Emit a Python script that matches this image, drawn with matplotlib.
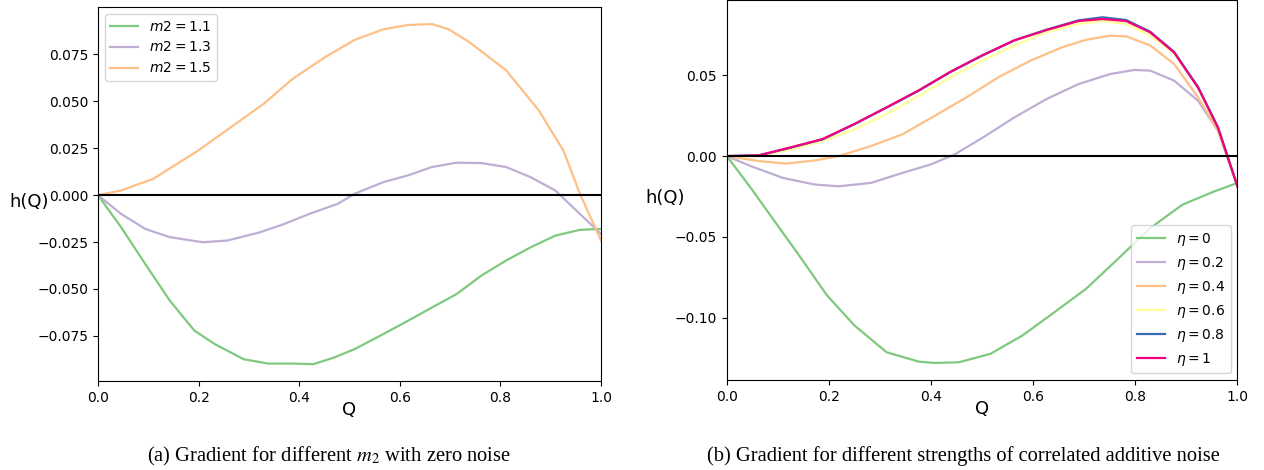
import matplotlib
matplotlib.use("Agg")
import matplotlib.pyplot as plt

# colours of the Accent colormap
colors = ['#7fc97f', '#beaed4', '#fdc086', '#ffff99', '#386cb0', '#f0027f']

# (a) zero noise, different m2
q_a15 = [0.0, 0.046, 0.11, 0.2, 0.274, 0.33, 0.388, 0.453, 0.51, 0.567, 0.616,
         0.664, 0.697, 0.737, 0.811, 0.876, 0.925, 0.958, 1.0]
h_a15 = [0.0, 0.0025, 0.0087, 0.0239, 0.0381, 0.0488, 0.0622, 0.0738, 0.0827,
         0.0884, 0.0907, 0.0912, 0.0884, 0.0818, 0.0666, 0.0453, 0.0239, 0.0007, -0.0242]

q_a13 = [0.0, 0.046, 0.094, 0.143, 0.208, 0.257, 0.322, 0.371, 0.42, 0.477, 0.51,
         0.567, 0.616, 0.664, 0.713, 0.762, 0.811, 0.86, 0.909, 0.958, 1.0]
h_a13 = [0.0, -0.010, -0.018, -0.0224, -0.0251, -0.0242, -0.0198, -0.0153, -0.010,
         -0.0046, 0.0007, 0.0069, 0.0105, 0.015, 0.0173, 0.0171, 0.015, 0.0096,
         0.0025, -0.010, -0.0207]

q_a11 = [0.0, 0.046, 0.094, 0.143, 0.192, 0.233, 0.29, 0.339, 0.388, 0.428, 0.469,
         0.51, 0.567, 0.616, 0.664, 0.713, 0.762, 0.811, 0.86, 0.909, 0.958, 1.0]
h_a11 = [0.0, -0.0171, -0.0367, -0.0563, -0.0723, -0.0795, -0.0875, -0.0898, -0.0898,
         -0.0901, -0.0866, -0.0821, -0.0741, -0.067, -0.0599, -0.0527, -0.0429,
         -0.0349, -0.0278, -0.0216, -0.0185, -0.018]

# (b) correlated additive noise, different eta
q_e0 = [0.0, 0.047, 0.094, 0.141, 0.196, 0.25, 0.313, 0.376, 0.407, 0.454, 0.516,
        0.579, 0.642, 0.704, 0.767, 0.829, 0.892, 0.955, 1.0]
h_e0 = [0.0, -0.0197, -0.0405, -0.0612, -0.0861, -0.1048, -0.1214, -0.1272, -0.128,
        -0.1276, -0.1224, -0.111, -0.0965, -0.082, -0.0633, -0.0446, -0.0301, -0.0218, -0.0166]

q_e2 = [0.0, 0.047, 0.11, 0.172, 0.219, 0.282, 0.344, 0.399, 0.446, 0.501, 0.563,
        0.626, 0.689, 0.751, 0.798, 0.829, 0.876, 0.923, 0.962, 1.0]
h_e2 = [0.0, -0.0062, -0.0135, -0.0176, -0.0187, -0.0166, -0.0104, -0.0052, 0.001,
        0.0114, 0.0239, 0.0353, 0.0446, 0.0508, 0.0533, 0.0529, 0.0467, 0.0342, 0.0156, -0.0187]

q_e4 = [0.0, 0.063, 0.117, 0.172, 0.219, 0.282, 0.344, 0.407, 0.469, 0.532, 0.595,
        0.657, 0.704, 0.751, 0.782, 0.829, 0.876, 0.923, 0.962, 1.0]
h_e4 = [0.0, -0.0031, -0.0046, -0.0027, 0.0, 0.0062, 0.0135, 0.0249, 0.0363, 0.0488,
        0.0591, 0.0674, 0.072, 0.0745, 0.0741, 0.0685, 0.057, 0.0363, 0.0156, -0.0187]

q_e6 = [0.0, 0.063, 0.125, 0.188, 0.25, 0.313, 0.376, 0.438, 0.501, 0.563, 0.626,
        0.689, 0.736, 0.782, 0.829, 0.876, 0.923, 0.962, 1.0]
h_e6 = [0.0, 0.0, 0.0041, 0.0093, 0.0166, 0.0259, 0.0373, 0.0488, 0.0591, 0.0685,
        0.0767, 0.0819, 0.0836, 0.0819, 0.0747, 0.0633, 0.0425, 0.0176, -0.0187]

q_e8 = [0.0, 0.063, 0.125, 0.188, 0.25, 0.313, 0.376, 0.438, 0.501, 0.563, 0.626,
        0.689, 0.736, 0.782, 0.829, 0.876, 0.923, 0.962, 1.0]
h_e8 = [0.0, 0.0004, 0.0052, 0.0104, 0.0197, 0.030, 0.0405, 0.052, 0.0623, 0.0716,
        0.0782, 0.084, 0.0859, 0.0842, 0.0770, 0.0645, 0.0427, 0.0177, -0.0187]

q_e10 = [0.0, 0.063, 0.125, 0.188, 0.25, 0.313, 0.376, 0.438, 0.501, 0.563, 0.626,
         0.689, 0.736, 0.782, 0.829, 0.876, 0.923, 0.962, 1.0]
h_e10 = [0.0, 0.0005, 0.0054, 0.0106, 0.0199, 0.0302, 0.0407, 0.0522, 0.0625, 0.0716,
         0.0780, 0.0836, 0.0848, 0.0836, 0.0766, 0.0641, 0.0423, 0.0175, -0.0187]

labels_a = ['$m2 = 1.1$', '$m2 = 1.3$', '$m2 = 1.5$']
labels_b = ['$\\eta = 0$', '$\\eta = 0.2$', '$\\eta = 0.4$', '$\\eta = 0.6$',
            '$\\eta = 0.8$', '$\\eta = 1$']

fig = plt.figure(figsize=(12.64, 4.70), dpi=100)
ax1 = fig.add_axes([0.0775, 0.189, 0.398, 0.796])
ax2 = fig.add_axes([0.575, 0.191, 0.404, 0.809])

series_a = [(q_a11, h_a11), (q_a13, h_a13), (q_a15, h_a15)]
for (q, h), c, lab in zip(series_a, colors[:3], labels_a):
    ax1.plot(q, h, color=c, lw=1.6, label=lab)
ax1.axhline(0, color='black', lw=1.5)
ax1.set_xlim(0, 1)
ax1.set_yticks([-0.075, -0.05, -0.025, 0.0, 0.025, 0.05, 0.075])
ax1.legend(loc='upper left', fontsize=10)

series_b = [(q_e0, h_e0), (q_e2, h_e2), (q_e4, h_e4), (q_e6, h_e6),
            (q_e8, h_e8), (q_e10, h_e10)]
for (q, h), c, lab in zip(series_b, colors, labels_b):
    ax2.plot(q, h, color=c, lw=1.6, label=lab)
ax2.axhline(0, color='black', lw=1.5)
ax2.set_xlim(0, 1)
ax2.set_yticks([-0.10, -0.05, 0.0, 0.05])
ax2.legend(loc='lower right', fontsize=10)

for ax, lx in [(ax1, -0.137), (ax2, -0.121)]:
    ax.tick_params(labelsize=10)
    ax.set_xlabel('Q', fontsize=13, labelpad=-3)
    ax.set_ylabel('h(Q)', fontsize=13, rotation=0, va='center', ha='center')
    ax.yaxis.set_label_coords(lx, 0.479)

fig.text(0.26, 0.029, '(a) Gradient for different $m_2$ with zero noise',
         family='Liberation Serif', math_fontfamily='stix', fontsize=14.8,
         ha='center', va='center')
fig.text(0.762, 0.029, '(b) Gradient for different strengths of correlated additive noise',
         family='Liberation Serif', math_fontfamily='stix', fontsize=14.8,
         ha='center', va='center')

fig.savefig('out.png', dpi=100)
